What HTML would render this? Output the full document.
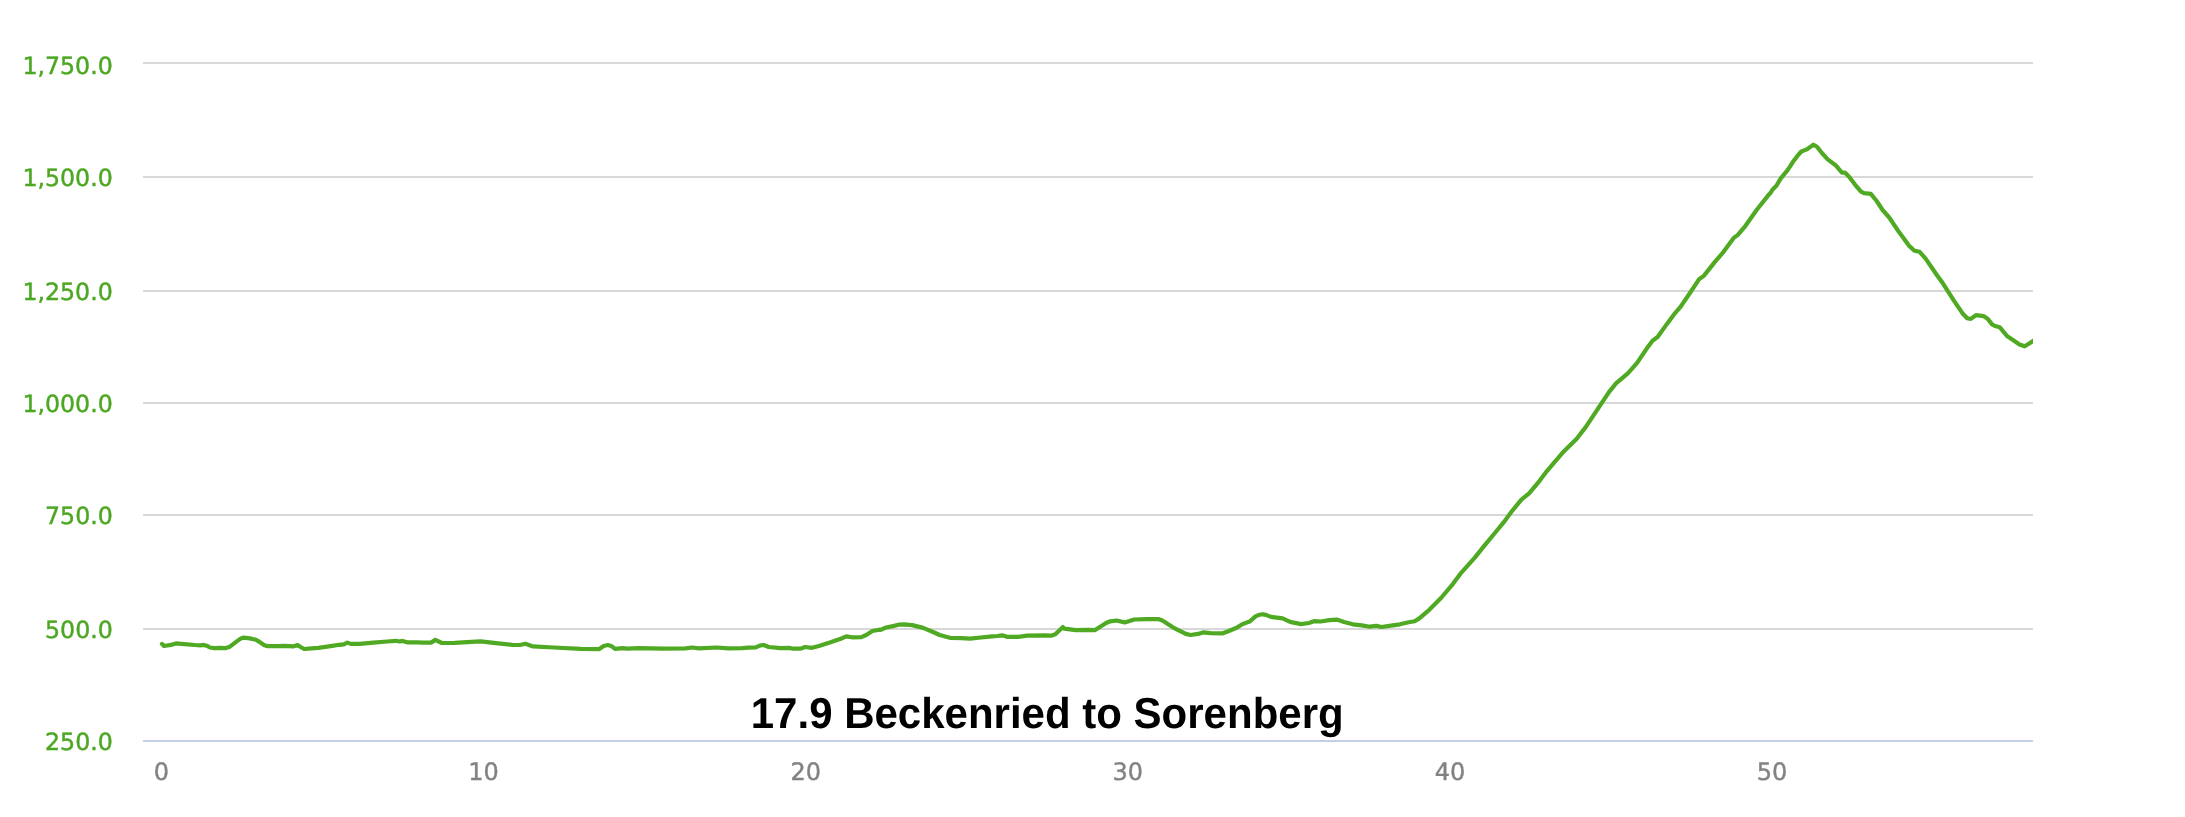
<!DOCTYPE html>
<html lang="en">
<head>
<meta charset="utf-8">
<title>17.9 Beckenried to Sorenberg</title>
<style>
html,body{margin:0;padding:0;background:#fff;}
body{width:2185px;height:817px;overflow:hidden;}
svg{display:block;}
text{text-rendering:geometricPrecision;}
.yl{font-family:"DejaVu Sans","Liberation Sans",sans-serif;font-size:23.7px;fill:#4ca722;stroke:#4ca722;stroke-width:0.45px;text-anchor:end;}
.xl{font-family:"DejaVu Sans","Liberation Sans",sans-serif;font-size:24px;fill:#828282;stroke:#828282;stroke-width:0.4px;text-anchor:middle;}
.title{font-family:"Liberation Sans",Arial,Helvetica,sans-serif;font-weight:bold;font-size:42px;fill:#000;text-anchor:middle;}
</style>
</head>
<body>
<svg width="2185" height="817" viewBox="0 0 2185 817">
<defs>
<filter id="noop" x="0" y="0" width="2185" height="817" filterUnits="userSpaceOnUse" color-interpolation-filters="sRGB"><feOffset dx="0" dy="0"/></filter>
<clipPath id="plot"><rect x="143" y="40" width="1890" height="720"/></clipPath>
</defs>
<rect width="2185" height="817" fill="#ffffff"/>
<g shape-rendering="crispEdges">
<rect x="143" y="62" width="1890" height="2" fill="#d8d8d8"/>
<rect x="143" y="176" width="1890" height="2" fill="#d8d8d8"/>
<rect x="143" y="290" width="1890" height="2" fill="#d8d8d8"/>
<rect x="143" y="402" width="1890" height="2" fill="#d8d8d8"/>
<rect x="143" y="514" width="1890" height="2" fill="#d8d8d8"/>
<rect x="143" y="628" width="1890" height="2" fill="#d8d8d8"/>
<rect x="143" y="740" width="1890" height="2" fill="#c4cfe7"/>
</g>
<g filter="url(#noop)">
<text class="yl" x="112.8" y="74">1,750.0</text>
<text class="yl" x="112.8" y="186">1,500.0</text>
<text class="yl" x="112.8" y="300">1,250.0</text>
<text class="yl" x="112.8" y="412">1,000.0</text>
<text class="yl" x="112.8" y="524">750.0</text>
<text class="yl" x="112.8" y="638">500.0</text>
<text class="yl" x="112.8" y="750">250.0</text>
</g>
<g filter="url(#noop)">
<text class="xl" x="161.5" y="780">0</text>
<text class="xl" x="483.6" y="780">10</text>
<text class="xl" x="805.7" y="780">20</text>
<text class="xl" x="1127.8" y="780">30</text>
<text class="xl" x="1449.9" y="780">40</text>
<text class="xl" x="1772.0" y="780">50</text>
</g>
<g clip-path="url(#plot)"><path d="M162.0 643.9 L164.0 646.0 L172.3 644.6 L176.0 643.4 L181.2 643.9 L194.9 645.0 L200.4 645.3 L203.8 644.9 L206.6 645.7 L210.0 647.5 L214.1 648.1 L221.0 647.8 L225.1 648.2 L229.9 646.7 L236.1 641.9 L240.9 638.4 L243.7 637.6 L249.8 638.4 L256.0 639.8 L259.5 641.9 L264.3 645.3 L267.7 646.1 L277.3 646.1 L284.2 645.9 L293.1 646.4 L297.6 645.0 L300.6 647.0 L304.1 649.0 L311.6 648.3 L318.5 647.8 L332.2 645.9 L339.1 644.8 L343.9 644.3 L347.3 642.6 L350.8 643.9 L359.7 643.9 L373.4 642.7 L387.1 641.5 L396.1 640.8 L399.5 641.5 L402.5 640.9 L407.1 642.3 L417.4 642.3 L422.8 642.7 L431.1 642.6 L435.4 639.9 L441.7 643.0 L454.7 642.8 L471.2 641.9 L480.8 641.3 L495.9 643.1 L512.4 644.9 L519.9 645.0 L525.4 643.8 L533.0 646.4 L553.6 647.5 L581.0 648.9 L598.9 649.2 L603.7 646.0 L607.8 645.0 L611.2 646.0 L615.4 648.9 L622.2 648.1 L627.7 648.7 L638.7 648.1 L663.4 648.7 L685.4 648.3 L692.3 647.5 L699.1 648.3 L717.0 647.5 L728.2 648.3 L742.0 648.2 L748.8 647.6 L755.7 647.4 L760.5 645.3 L763.9 645.0 L768.7 647.0 L780.4 648.1 L788.7 647.9 L792.8 648.6 L801.0 648.6 L805.1 647.0 L812.0 647.8 L818.9 645.9 L829.8 642.6 L840.8 638.7 L846.3 636.4 L851.8 637.3 L861.4 637.1 L866.2 635.0 L872.4 631.0 L879.3 629.7 L880.6 629.9 L886.1 627.5 L893.0 626.1 L898.5 624.7 L904.0 624.4 L912.2 625.1 L923.2 627.9 L934.2 632.5 L939.7 635.0 L950.7 638.0 L961.7 638.2 L969.9 638.7 L980.9 637.5 L991.9 636.4 L997.4 636.0 L1002.2 635.3 L1007.0 636.8 L1018.2 636.8 L1027.2 635.7 L1044.3 635.3 L1051.2 635.7 L1055.3 634.3 L1062.9 627.1 L1064.2 628.7 L1075.9 630.2 L1088.3 629.8 L1095.1 630.1 L1106.1 623.0 L1110.2 621.3 L1116.4 620.5 L1124.7 622.4 L1134.3 619.5 L1147.3 619.1 L1158.3 619.0 L1162.4 620.5 L1174.8 628.4 L1185.8 633.9 L1190.6 635.0 L1198.1 633.9 L1203.6 632.3 L1210.5 633.1 L1222.8 633.3 L1228.3 631.2 L1236.6 627.8 L1242.7 623.9 L1249.6 621.6 L1255.8 616.1 L1259.5 614.7 L1262.6 614.2 L1266.0 614.9 L1270.9 616.9 L1282.6 618.4 L1290.1 621.9 L1301.1 624.1 L1308.8 623.0 L1314.7 621.1 L1320.6 621.5 L1329.4 620.1 L1336.7 619.6 L1344.1 622.0 L1352.9 624.3 L1361.7 625.4 L1369.8 626.7 L1376.4 625.9 L1381.5 627.0 L1391.1 625.6 L1399.9 624.3 L1408.7 622.3 L1414.6 621.2 L1419.0 618.6 L1429.3 609.8 L1441.0 598.0 L1452.8 584.1 L1461.6 572.3 L1474.8 557.6 L1483.6 546.6 L1495.7 532.0 L1503.4 522.7 L1512.4 510.6 L1521.4 499.6 L1529.1 493.4 L1539.4 481.1 L1547.1 470.8 L1562.5 452.8 L1576.7 438.7 L1585.7 427.1 L1598.5 407.8 L1608.8 392.4 L1616.0 383.4 L1628.1 373.1 L1637.1 362.9 L1646.9 348.3 L1652.5 340.7 L1657.6 337.0 L1666.6 324.4 L1675.1 313.1 L1680.7 306.6 L1690.6 292.0 L1699.0 279.3 L1703.8 275.9 L1714.5 262.4 L1723.0 252.5 L1733.7 237.9 L1737.6 235.1 L1745.5 225.8 L1756.8 209.7 L1768.0 195.6 L1770.0 193.6 L1772.9 189.2 L1776.4 185.8 L1780.8 178.4 L1787.6 170.1 L1793.0 161.8 L1797.4 155.9 L1801.3 151.5 L1806.7 149.4 L1810.1 147.1 L1813.4 144.7 L1817.0 146.8 L1821.9 153.0 L1827.7 159.4 L1835.6 165.2 L1841.9 172.6 L1844.9 172.6 L1849.3 177.0 L1855.2 184.8 L1861.0 191.7 L1864.0 193.1 L1870.8 193.8 L1876.7 201.0 L1882.6 210.0 L1889.2 217.5 L1899.0 232.1 L1908.9 245.6 L1914.5 250.7 L1919.6 251.8 L1925.8 258.9 L1937.0 275.2 L1942.7 283.1 L1953.9 300.6 L1962.4 313.2 L1967.2 318.3 L1970.8 318.9 L1975.9 315.2 L1983.5 316.1 L1987.9 319.1 L1992.3 324.6 L1996.0 326.3 L1999.7 327.2 L2003.4 331.6 L2007.0 336.0 L2014.4 341.1 L2019.5 344.5 L2024.7 346.3 L2027.6 344.5 L2033.0 341.1 L2036.0 339.2" fill="none" stroke="#4fa923" stroke-width="4.2" stroke-linejoin="round" stroke-linecap="round"/></g>
<g filter="url(#noop)"><text class="title" transform="translate(1047.2 727.9) scale(1 1.03)" x="0" y="0">17.9 Beckenried to Sorenberg</text></g>
</svg>
</body>
</html>
